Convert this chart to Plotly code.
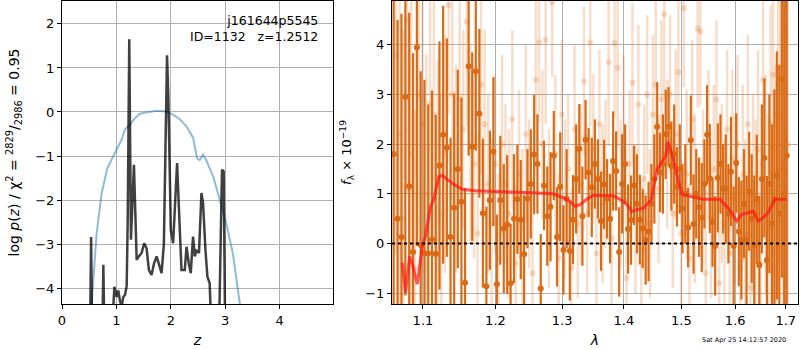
import numpy as np
import plotly.graph_objects as go

# ---------------- left panel: p(z) ----------------
pz_z = [0.544, 0.636, 0.728, 0.832, 0.94, 1.03, 1.095, 1.156, 1.248, 1.34, 1.43, 1.55, 1.74,
        1.92, 2.04, 2.17, 2.29, 2.41, 2.48, 2.53, 2.59, 2.65, 2.78, 2.90, 3.02, 3.14, 3.27]
pz_logp = [-4.37, -2.76, -1.85, -1.28, -1.01, -0.78, -0.63, -0.40, -0.29, -0.14, -0.04, -0.01, 0.03,
           0.01, -0.06, -0.17, -0.33, -0.59, -1.05, -1.09, -0.97, -1.09, -1.47, -2.0, -2.53, -3.22, -4.37]

chi_z = [0.516, 0.535, 0.553, 0.742, 0.760, 0.778, 0.919, 0.962, 1.005, 1.035, 1.066, 1.097, 1.126,
         1.158, 1.189, 1.207, 1.236, 1.267, 1.322, 1.372, 1.401, 1.463, 1.511, 1.555, 1.597, 1.646,
         1.689, 1.738, 1.780, 1.830, 1.872, 1.90, 1.93, 1.955, 2.0, 2.042, 2.115, 2.165, 2.196, 2.256,
         2.288, 2.330, 2.366, 2.408, 2.440, 2.471, 2.518, 2.562, 2.592, 2.636, 2.672, 2.714, 2.745,
         2.885, 2.94, 2.971, 2.998]
chi_logp = [-5, -2.84, -5, -5, -3.47, -5, -5, -3.97, -4.2, -4.05, -4.3, -4.4, -4.2,
            -4.15, -3.95, -2.5, 1.65, -2.9, -1.2, -3.36, -3.3, -3.2, -2.98, -3.1, -3.59, -3.7,
            -3.45, -3.28, -3.45, -3.66, -3.0, -0.5, 1.29, 0.3, -2.68, -2.98, -1.16, -2.68, -3.59, -3.59,
            -3.06, -3.44, -3.66, -2.83, -3.28, -3.15, -3.2, -1.84, -2.07, -3.13, -3.74, -3.89, -5,
            -5, -1.31, -1.35, -5]

# ---------------- right panel: spectrum ----------------
lam_start = 1.062
lam_step = 0.005

flux_a = [1.8, 0.5, 0.13, 2.95, 1.15, -0.17, 3.95, -0.03, -0.2, -0.2,
          0.08, -0.21, 1.57, 2.19, 1.93, 0.13, 0.72, 1.5, 0.84, -0.79,
          3.57, 1.95, 3.47, 2.62, 0.61, -0.86, 0.87, 1.85, -0.82, 0.87,
          0.30, 0.38, -0.8, 0.5, 0.89, 0.48, -0.22, 0.9, 1.2, 1.79,
          1.6, -0.91, 1.17, 0.55, 0.74, 1.77, 0.13, 1.14, -0.13, 0.9,
          -0.15, 0.48, 1.3, 1.91, 0.55, 2.09, 1.43, 1.13, 1.6, 1.3,
          0.45, 1.19, 0.9, 0.5, 1.66, 1.46, -0.17, 1.2, 1.6, 0.29,
          0.47, 1.17, 0.8, 0.48, 0.3, 0.07, 0.24, 0.8, 1.3, 2.35,
          1.43, 1.6, 2.2, 2.35, 1.56, 1.8, 1.14, 1.5, 0.7, 1.0,
          0.32, 2.08, 0.39, 1.0, 0.73, 0.52, 1.2, 2.19, 1.31, 0.43,
          -0.05, 1.32, 1.6, 1.1, 1.1, 0.6, 1.45, -0.05, 1.62, 0.24,
          0.07, 0.8, 0.07, 1.05, 0.5, -0.03, 0.89, -0.44, 1.3, 1.72,
          -0.34, 1.2, 0.4, 0.9, 1.37, 0.6, 3.31, 1.0, 1.77]
err_a = [4.5, 4.0, 4.5, 4.0, 3.5, 4.0, 4.0, 3.5, 3.5, 3.0,
         3.0, 2.8, 2.5, 2.6, 2.2, 2.0, 2.3, 2.0, 2.1, 1.9,
         1.8, 1.9, 1.6, 1.7, 1.5, 1.6, 1.4, 1.5, 1.4, 1.3,
         1.3, 1.4, 1.2, 1.3, 1.1, 1.2, 1.2, 1.0, 1.1, 1.2,
         1.0, 1.1, 0.9, 1.0, 1.1, 0.9, 1.0, 1.1, 0.9, 1.0,
         1.0, 0.9, 1.1, 0.9, 1.0, 0.8, 0.9, 1.0, 0.9, 0.8,
         1.0, 0.9, 0.8, 0.9, 1.0, 0.8, 0.9, 1.0, 0.8, 0.9,
         0.9, 0.8, 1.0, 0.9, 0.8, 0.9, 1.0, 0.8, 0.9, 0.9,
         0.8, 1.0, 0.9, 0.8, 0.9, 1.0, 0.8, 0.9, 0.9, 1.0,
         0.8, 0.9, 1.0, 0.9, 1.0, 1.1, 0.9, 1.0, 1.1, 0.9,
         1.0, 1.1, 1.0, 0.9, 1.1, 1.0, 1.1, 1.2, 1.0, 1.1,
         1.2, 1.1, 1.3, 1.2, 1.3, 1.4, 1.3, 1.4, 1.5, 1.6,
         1.7, 1.8, 2.0, 2.2, 2.5, 3.0, 4.0, 6.0, 8.0]

flux_b = [3.8, 2.2, 0.5, 4.5, 1.8, -0.5, 3.0, 2.4, 1.0, 2.8,
          2.6, 1.2, 0.6, 1.8, 4.8, 3.0, 1.5, 2.9, 2.3, 4.46,
          2.0, 1.6, 0.2, 3.2, 2.4, 1.2, 0.4, 1.6, -0.3, 2.0,
          1.2, 0.6, 2.5, -0.4, 1.4, 0.3, 2.2, 1.0, -0.6, 3.3,
          4.05, 2.0, 4.1, 0.7, 4.85, 1.8, -0.3, 2.6, 0.9, 1.5,
          -0.5, 2.3, 0.4, 1.2, 3.27, 0.6, 4.05, 1.9, -0.2, 2.4,
          0.8, 1.4, 3.65, 0.1, 4.04, 3.54, 1.0, 2.1, -0.7, 1.6,
          3.24, 0.5, 2.8, -0.4, 1.3, 3.0, 0.4, 2.6, 3.2, 1.1,
          2.9, 4.62, 1.8, 3.0, 0.6, 2.2, 3.45, 0.2, 4.74, 1.4,
          -0.3, 2.5, 0.9, 4.33, 4.27, 1.1, -0.6, 2.0, 0.5, 1.5,
          2.9, -0.8, 1.2, 0.4, 2.3, -0.2, 1.7, 0.9, 2.0, -0.5,
          1.4, 0.2, 2.4, -0.9, 1.0, 0.6, 1.9, -0.4, 3.3, 1.2,
          0.3, 2.4, 3.4, 0.8, 2.6, 3.1, 1.5, 4.22, 2.0]
err_b = [4.0, 4.0, 3.8, 3.5, 3.5, 3.2, 3.0, 3.0, 2.8, 2.8,
         2.6, 2.5, 2.4, 2.4, 2.2, 2.3, 2.1, 2.2, 2.0, 2.1,
         2.0, 1.9, 2.0, 1.8, 1.9, 1.8, 1.7, 1.8, 1.7, 1.8,
         1.6, 1.7, 1.8, 1.6, 1.7, 1.6, 1.8, 1.5, 1.6, 1.7,
         1.6, 1.5, 1.7, 1.6, 1.5, 1.6, 1.7, 1.5, 1.6, 1.5,
         1.6, 1.7, 1.5, 1.6, 1.5, 1.6, 1.7, 1.5, 1.6, 1.5,
         1.6, 1.5, 1.7, 1.6, 1.5, 1.6, 1.5, 1.7, 1.6, 1.5,
         1.6, 1.5, 1.6, 1.7, 1.5, 1.6, 1.5, 1.6, 1.7, 1.5,
         1.6, 1.7, 1.5, 1.6, 1.5, 1.7, 1.6, 1.5, 1.6, 1.7,
         1.5, 1.6, 1.7, 1.6, 1.5, 1.6, 1.7, 1.5, 1.6, 1.7,
         1.6, 1.7, 1.6, 1.7, 1.6, 1.7, 1.8, 1.7, 1.8, 1.7,
         1.8, 1.9, 1.8, 1.9, 2.0, 1.9, 2.0, 2.1, 2.0, 2.2,
         2.3, 2.4, 2.6, 2.8, 3.0, 3.4, 4.0, 5.0, 6.0]

model_lam = [1.073, 1.0773, 1.0824, 1.0869, 1.0925, 1.0991, 1.1034, 1.1100, 1.1145, 1.1212,
             1.1258, 1.1325, 1.1416, 1.1530, 1.1716, 1.2537, 1.2862, 1.3019, 1.3124, 1.3203,
             1.3282, 1.3389, 1.3496, 1.3823, 1.3934, 1.4047, 1.4131, 1.4216, 1.4329, 1.4470,
             1.4566, 1.4640, 1.4718, 1.4760, 1.4855, 1.4944, 1.5005, 1.5154, 1.5398, 1.5709,
             1.5835, 1.5931, 1.6027, 1.6124, 1.6252, 1.6349, 1.6447, 1.6546, 1.6645, 1.6779,
             1.7016]
model_flux = [-0.39, -0.99, -0.26, -0.46, -0.82, -0.05, 0.15, 0.74, 0.89, 1.35,
              1.37, 1.29, 1.19, 1.09, 1.06, 1.02, 1.0, 0.92, 0.85, 0.75,
              0.78, 0.89, 0.97, 0.96, 0.89, 0.79, 0.64, 0.68, 0.71, 0.89,
              1.49, 1.62, 1.76, 2.05, 1.69, 1.29, 0.99, 0.95, 0.89, 0.89,
              0.75, 0.62, 0.45, 0.58, 0.62, 0.65, 0.45, 0.52, 0.62, 0.89,
              0.89]

lam_a = [lam_start + lam_step * i for i in range(len(flux_a))]
lam_b = [lam_start + lam_step * (i + 0.5) for i in range(len(flux_b))]

ORANGE = "rgb(218,106,20)"
ORANGE_L = "rgba(218,106,20,0.22)"
FONT = "DejaVu Sans"

# layout geometry (pixels)
W, H = 800, 350
ML, MR, MT, MB = 62, 2, 1, 46
PW = W - ML - MR
PH = H - MT - MB

fig = go.Figure()

fig.add_trace(go.Scatter(x=pz_z, y=pz_logp, mode="lines",
                         line=dict(color="rgba(31,119,180,0.5)", width=2),
                         xaxis="x", yaxis="y", showlegend=False))
fig.add_trace(go.Scatter(x=chi_z, y=chi_logp, mode="lines",
                         line=dict(color="rgba(0,0,0,0.75)", width=2.5),
                         xaxis="x", yaxis="y", showlegend=False))

fig.add_trace(go.Scatter(x=lam_b, y=flux_b, mode="markers",
                         marker=dict(color=ORANGE_L, size=6),
                         error_y=dict(type="data", array=err_b, color=ORANGE_L, thickness=2.5, width=0),
                         xaxis="x2", yaxis="y2", showlegend=False))
fig.add_trace(go.Scatter(x=lam_a, y=flux_a, mode="markers",
                         marker=dict(color=ORANGE, size=6),
                         error_y=dict(type="data", array=err_a, color=ORANGE, thickness=2.2, width=0),
                         xaxis="x2", yaxis="y2", showlegend=False))
fig.add_trace(go.Scatter(x=model_lam, y=model_flux, mode="lines",
                         line=dict(color="rgba(255,20,20,0.7)", width=3),
                         xaxis="x2", yaxis="y2", showlegend=False))

fig.add_shape(type="line", xref="x2 domain", yref="y2", x0=0, x1=1, y0=0, y1=0,
              line=dict(color="black", width=2, dash="dot"))

axis_common = dict(showline=True, mirror=True, linecolor="black", linewidth=1,
                   ticks="outside", ticklen=4, tickcolor="black", automargin=False,
                   showgrid=True, gridcolor="#b0b0b0", gridwidth=1, zeroline=False,
                   tickfont=dict(family=FONT, size=13, color="black"))

fig.update_layout(
    width=W, height=H,
    margin=dict(l=ML, r=MR, t=MT, b=MB),
    paper_bgcolor="white", plot_bgcolor="white",
    font=dict(family=FONT, size=13, color="black"),
    xaxis=dict(domain=[0, (333 - ML) / PW], range=[0, 4.98], tickvals=[0, 1, 2, 3, 4],
               anchor="y",
               title=dict(text="<i>z</i>", standoff=8, font=dict(size=14)), **axis_common),
    yaxis=dict(domain=[0, 1], range=[-4.36, 2.52], tickvals=[-4, -3, -2, -1, 0, 1, 2],
               ticktext=["\u22124", "\u22123", "\u22122", "\u22121", "0", "1", "2"],
               anchor="x",
               title=dict(text="log <i>p</i>(<i>z</i>) / \u03c7<sup>2</sup> = <sup>2829</sup>/<sub>2986</sub> = 0.95",
                          standoff=12, font=dict(size=14)), **axis_common),
    xaxis2=dict(domain=[(392 - ML) / PW, 1], type="log", range=[0.02526, 0.23685],
                tickvals=[1.1, 1.2, 1.3, 1.4, 1.5, 1.6, 1.7],
                ticktext=["1.1", "1.2", "1.3", "1.4", "1.5", "1.6", "1.7"],
                anchor="y2",
                title=dict(text="<i>\u03bb</i>", standoff=8, font=dict(size=14)), **axis_common),
    yaxis2=dict(domain=[0, 1], range=[-1.22, 4.885], tickvals=[-1, 0, 1, 2, 3, 4],
                ticktext=["\u22121", "0", "1", "2", "3", "4"],
                anchor="x2",
                title=dict(text="<i>f</i><sub>\u03bb</sub> \u00d7 10<sup>\u221219</sup>",
                           standoff=10, font=dict(size=13)), **axis_common),
)

fig.add_annotation(x=(320 - ML) / (333 - ML), y=1 - 10 / PH, xref="x domain", yref="y domain",
                   text="j161644p5545<br>ID=1132   z=1.2512", showarrow=False,
                   xanchor="right", yanchor="top", align="right",
                   font=dict(family=FONT, size=12.5, color="black"))
fig.add_annotation(x=(788 - ML) / PW, y=(H - MB - 340) / PH, xref="paper", yref="paper",
                   text="Sat Apr 25 14:12:57 2020", showarrow=False,
                   xanchor="right", yanchor="middle",
                   font=dict(family=FONT, size=6.5, color="black"))

fig.write_html("out.html", config={"displayModeBar": False},
               post_script="document.body.style.margin='0';document.body.style.overflow='hidden';")
